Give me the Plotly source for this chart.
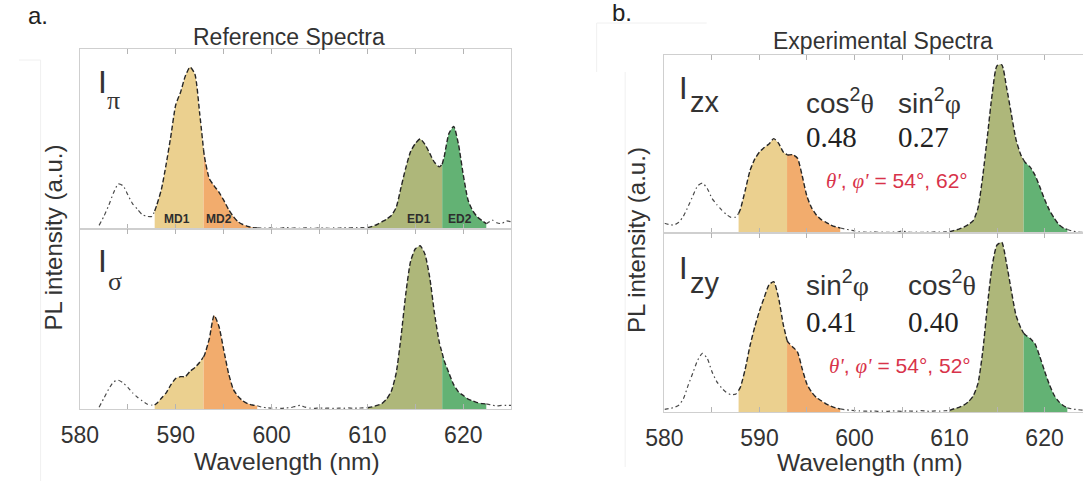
import plotly.graph_objects as go

W, H = 1083, 481

# Wavelength grid (nm) shared by all four spectra
wavelength = [
    580.0, 580.5, 581.0, 581.5, 582.0, 582.5, 583.0, 583.5, 584.0, 584.5, 585.0, 585.5, 586.0, 586.5, 587.0, 587.5, 587.8,
    588.0, 588.5, 589.0, 589.5, 590.0, 590.5, 591.0, 591.5, 592.0, 592.5, 592.9,
    593.0, 593.5, 594.0, 594.5, 595.0, 595.5, 596.0, 596.5, 597.0, 597.5, 598.0, 598.5,
    599.0, 599.5, 600.0, 600.5, 601.0, 601.5, 602.0, 602.5, 603.0, 603.5, 604.0, 604.5, 605.0, 605.5, 606.0, 606.5,
    607.0, 607.5, 608.0, 608.5, 609.0, 609.5,
    610.0, 610.5, 611.0, 611.5, 612.0, 612.5, 613.0, 613.5, 614.0, 614.5, 615.0, 615.5, 616.0, 616.5, 617.0, 617.5, 617.8,
    618.0, 618.5, 619.0, 619.5, 620.0, 620.5, 621.0, 621.5, 622.0, 622.4,
    622.5, 623.0, 623.5, 624.0, 624.5, 625.0,
]

# Reference spectra (normalised PL intensity)
i_pi = [
    None, None, None, None, 0.02, 0.07, 0.13, 0.20, 0.25, 0.24, 0.19, 0.14, 0.11, 0.08, 0.07, 0.07, 0.10,
    0.13, 0.22, 0.36, 0.52, 0.69, 0.76, 0.85, 0.90, 0.86, 0.64, 0.44,
    0.40, 0.28, 0.24, 0.205, 0.16, 0.11, 0.07, 0.04, 0.025, 0.015, 0.008, 0.006,
    0.005, 0.004, 0.006, 0.003, 0.005, 0.008, 0.004, 0.006, 0.003, 0.007, 0.005, 0.004, 0.006, 0.005, 0.004, 0.006,
    0.005, 0.007, 0.006, 0.008, 0.007, 0.008,
    0.008, 0.015, 0.025, 0.04, 0.055, 0.075, 0.12, 0.23, 0.34, 0.43, 0.475, 0.50, 0.47, 0.42, 0.37, 0.345, 0.36,
    0.40, 0.53, 0.57, 0.47, 0.30, 0.16, 0.10, 0.065, 0.045, 0.03,
    0.032, 0.05, 0.035, 0.03, 0.045, 0.04,
]
i_sigma = [
    None, None, None, None, 0.01, 0.06, 0.11, 0.15, 0.16, 0.145, 0.12, 0.09, 0.065, 0.045, 0.028, 0.022, 0.022,
    0.03, 0.06, 0.09, 0.135, 0.17, 0.18, 0.18, 0.21, 0.23, 0.26, 0.29,
    0.30, 0.39, 0.52, 0.46, 0.33, 0.20, 0.11, 0.07, 0.045, 0.03, 0.022, 0.018,
    0.01, 0.007, 0.005, 0.006, 0.004, 0.006, 0.008, 0.015, 0.02, 0.01, 0.005, 0.004, 0.006, 0.004, 0.005, 0.003,
    0.005, 0.004, 0.006, 0.004, 0.005, 0.006,
    0.007, 0.012, 0.02, 0.03, 0.055, 0.10, 0.20, 0.40, 0.64, 0.82, 0.89, 0.907, 0.86, 0.73, 0.53, 0.37, 0.31,
    0.27, 0.20, 0.135, 0.095, 0.075, 0.055, 0.045, 0.035, 0.03, 0.028,
    0.027, 0.022, 0.017, 0.02, 0.02, 0.02,
]

# Experimental spectra
i_zx = [
    0.055, 0.048, 0.045, 0.06, 0.095, 0.15, 0.21, 0.265, 0.28, 0.25, 0.195, 0.16, 0.13, 0.105, 0.088, 0.09, 0.11,
    0.135, 0.24, 0.35, 0.415, 0.455, 0.48, 0.50, 0.53, 0.505, 0.455, 0.44,
    0.438, 0.44, 0.42, 0.32, 0.205, 0.14, 0.10, 0.075, 0.06, 0.045, 0.035, 0.028,
    0.022, 0.017, 0.012, 0.007, 0.005, 0.004, 0.006, 0.004, 0.005, 0.003, 0.005, 0.004, 0.012, 0.006, 0.004, 0.005,
    0.003, 0.005, 0.004, 0.006, 0.005, 0.006,
    0.007, 0.015, 0.022, 0.033, 0.048, 0.07, 0.14, 0.32, 0.55, 0.785, 0.94, 0.945, 0.82, 0.67, 0.525, 0.44, 0.41,
    0.395, 0.37, 0.325, 0.26, 0.19, 0.13, 0.085, 0.048, 0.028, 0.02,
    0.018, 0.01, 0.006, 0.004, 0.004, 0.004,
]
i_zy = [
    0.015, 0.02, 0.025, 0.038, 0.075, 0.15, 0.22, 0.29, 0.328, 0.30, 0.225, 0.17, 0.135, 0.11, 0.097, 0.10, 0.12,
    0.14, 0.24, 0.37, 0.475, 0.565, 0.64, 0.71, 0.728, 0.64, 0.49, 0.40,
    0.39, 0.363, 0.335, 0.24, 0.155, 0.11, 0.08, 0.063, 0.046, 0.033, 0.023, 0.017,
    0.013, 0.01, 0.008, 0.006, 0.005, 0.004, 0.006, 0.003, 0.005, 0.004, 0.006, 0.005, 0.004, 0.006, 0.005, 0.004,
    0.008, 0.005, 0.004, 0.006, 0.005, 0.007,
    0.009, 0.018, 0.026, 0.038, 0.058, 0.09, 0.16, 0.34, 0.60, 0.82, 0.933, 0.948, 0.83, 0.68, 0.54, 0.47, 0.44,
    0.43, 0.41, 0.38, 0.31, 0.23, 0.155, 0.095, 0.058, 0.035, 0.024,
    0.022, 0.016, 0.013, 0.011, 0.011, 0.011,
]

# Emission bands (MD = magnetic dipole, ED = electric dipole)
band_names = ["MD1", "MD2", "ED1", "ED2"]
band_edges = [(587.8, 592.9), (592.9, 598.5), (610.0, 617.8), (617.8, 622.4)]
band_colors = ["#EBD08F", "#F2AC6D", "#AEB77A", "#63B274"]
band_label_pos = [590.1, 594.5, 615.4, 619.7]

tick_vals = [580, 585, 590, 595, 600, 605, 610, 615, 620, 625]
tick_text = ["580", "", "590", "", "600", "", "610", "", "620", ""]

SANS = "Liberation Sans, Arial, sans-serif"
SERIF = "Liberation Serif, Times New Roman, serif"
FRAME = "#cfcfcf"
TEXT = "#333333"


def fx(px):
    return px / W


def fy(py):
    return 1 - py / H


# (spectrum, axis suffix, x-domain px, y-domain px, x range, show right frame, tick labels)
panels = [
    (i_pi, "", (62, 501), (49, 229), (580, 625), True, False),
    (i_sigma, "2", (62, 501), (229, 409), (580, 625), True, True),
    (i_zx, "3", (657, 1083), (55, 233), (580, 624.05), False, False),
    (i_zy, "4", (657, 1083), (233, 412), (580, 624.05), False, True),
]

fig = go.Figure()
layout = dict(
    width=W, height=H, margin=dict(l=0, r=0, t=0, b=0),
    paper_bgcolor="white", plot_bgcolor="white", showlegend=False,
    font=dict(family=SANS, color=TEXT),
)


def inside_band(w):
    return any(lo < w < hi for lo, hi in band_edges)


for spec, sfx, xdom, ydom, xr, right_frame, labels in panels:
    xa, ya = "x" + sfx, "y" + sfx
    # coloured bands under the curve
    for (lo, hi), col in zip(band_edges, band_colors):
        xs = [w for w, v in zip(wavelength, spec) if lo <= w <= hi and v is not None]
        ys = [v for w, v in zip(wavelength, spec) if lo <= w <= hi and v is not None]
        fig.add_trace(go.Scatter(
            x=xs, y=ys, xaxis=xa, yaxis=ya, mode="lines", fill="tozeroy",
            fillcolor=col, line=dict(color="#262626", width=1.4, dash="5px,2.5px", shape="spline", smoothing=0.6),
            hoverinfo="skip",
        ))
    # the rest of the spectrum as a dotted line
    outside = [None if inside_band(w) else v for w, v in zip(wavelength, spec)]
    fig.add_trace(go.Scatter(
        x=wavelength, y=outside, xaxis=xa, yaxis=ya, mode="lines",
        line=dict(color="#4a4a4a", width=1.2, dash="4px,3px,1.5px,3px", shape="spline", smoothing=0.6),
        hoverinfo="skip",
    ))
    layout["xaxis" + sfx] = dict(
        domain=[fx(xdom[0]), fx(xdom[1])], range=list(xr), anchor=ya,
        showline=True, linecolor=FRAME, linewidth=1, mirror="ticks",
        ticks="inside", ticklen=5, tickcolor="#b4b4b4", tickwidth=1,
        tickvals=tick_vals, ticktext=tick_text if labels else [""] * len(tick_vals),
        showticklabels=labels, tickfont=dict(size=23, color=TEXT, family=SANS),
        ticklabelstandoff=5,
        showgrid=False, zeroline=False, fixedrange=True,
    )
    layout["yaxis" + sfx] = dict(
        domain=[fy(ydom[1]), fy(ydom[0])], range=[0, 1], anchor=xa,
        showline=True, linecolor=FRAME, linewidth=1, mirror=right_frame,
        showticklabels=False, ticks="", showgrid=False, zeroline=False, fixedrange=True,
    )

fig.update_layout(**layout)

ann = []


def label(text, x, y, size, xanchor="left", yanchor="middle", color=TEXT, family=SANS, angle=0):
    ann.append(dict(text=text, x=fx(x), y=fy(y), xref="paper", yref="paper",
                    xanchor=xanchor, yanchor=yanchor, showarrow=False, textangle=angle,
                    borderpad=0, font=dict(size=size, color=color, family=family)))


# panel letters and titles
label("a.", 8, 15, 24, color="#222")
label("b.", 603, 12, 24, color="#222")
label("Reference Spectra", 275, 37, 23, xanchor="center")
label("Experimental Spectra", 879, 41, 23, xanchor="center")
label("PL intensity (a.u.)", 35, 237, 24, xanchor="center", angle=-90)
label("PL intensity (a.u.)", 628, 240, 24, xanchor="center", angle=-90)
label("Wavelength (nm)", 273, 461, 24.5, xanchor="center")
label("Wavelength (nm)", 866, 462, 24.5, xanchor="center")

# polarisation labels
label("I", 79, 82, 32)
label("π", 89, 101, 26, family=SERIF)
label("I", 79, 261, 32)
label("σ", 90, 281, 26, family=SERIF)
label("I", 671, 89, 31)
label("zx", 682, 102, 29)
label("I", 671, 268, 31)
label("zy", 682, 283, 29)

# orientation factors
th = "<span style='font-family:Liberation Serif'>θ</span>"
ph = "<span style='font-family:Liberation Serif'>φ</span>"
label("cos<sup>2</sup>" + th, 800, 101, 28)
label("sin<sup>2</sup>" + ph, 894, 101, 28)
label("0.48", 800, 137, 29, family=SERIF, color="#222")
label("0.27", 894, 137, 29, family=SERIF, color="#222")
label("sin<sup>2</sup>" + ph, 800, 283, 28)
label("cos<sup>2</sup>" + th, 904, 283, 28)
label("0.41", 800, 322, 29, family=SERIF, color="#222")
label("0.40", 904, 322, 29, family=SERIF, color="#222")

RED = "#D8334A"
angles = "<span style='font-family:Liberation Serif'><i>θ'</i></span>, <span style='font-family:Liberation Serif'><i>φ'</i></span>"
label(angles + " = 54°, 62°", 820, 181, 21, color=RED)
label(angles + " = 54°, 52°", 823, 366, 21, color=RED)

# band names on the reference spectrum
for name, pos in zip(band_names, band_label_pos):
    ann.append(dict(text="<b>" + name + "</b>", x=pos, y=0.055, xref="x", yref="y",
                    xanchor="center", yanchor="middle", showarrow=False,
                    font=dict(size=12, color="#2e2e2e", family=SANS)))

fig.update_layout(annotations=ann)

# faint outlines of the panel frames
faint = "#f0f0f0"
shapes = [
    dict(type="line", xref="paper", yref="paper", x0=fx(0), x1=fx(22), y0=fy(60), y1=fy(60), line=dict(color=faint, width=1)),
    dict(type="line", xref="paper", yref="paper", x0=fx(22), x1=fx(22), y0=fy(60), y1=fy(481), line=dict(color=faint, width=1)),
    dict(type="line", xref="paper", yref="paper", x0=fx(588), x1=fx(700), y0=fy(23), y1=fy(23), line=dict(color=faint, width=1)),
    dict(type="line", xref="paper", yref="paper", x0=fx(588), x1=fx(588), y0=fy(23), y1=fy(72), line=dict(color=faint, width=1)),
    dict(type="line", xref="paper", yref="paper", x0=fx(617), x1=fx(617), y0=fy(72), y1=fy(467), line=dict(color=faint, width=1)),
]
fig.update_layout(shapes=shapes)

fig.write_html("out.html")
